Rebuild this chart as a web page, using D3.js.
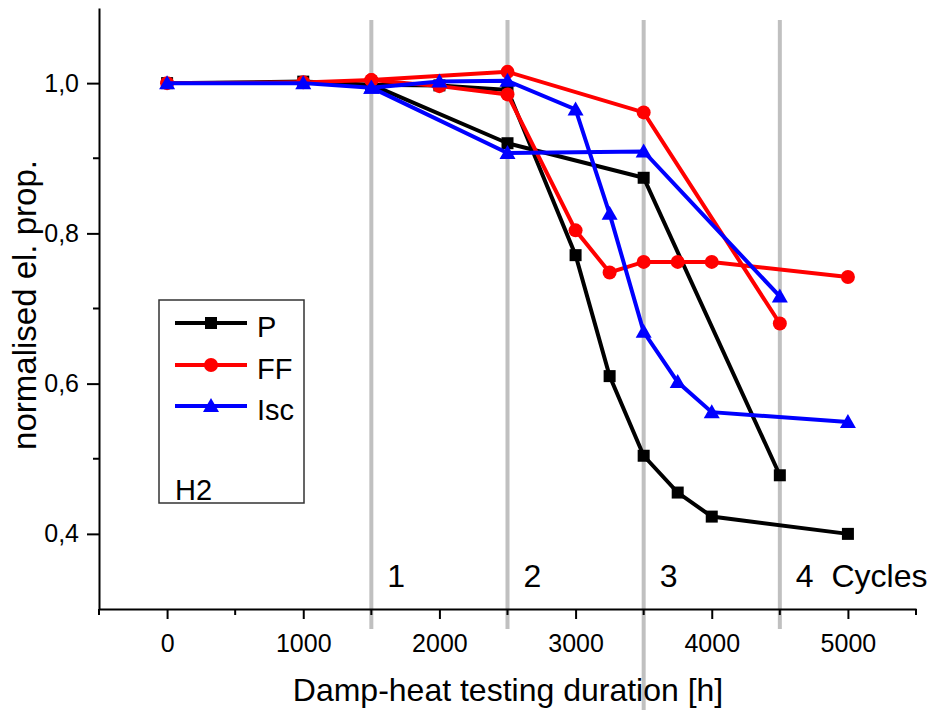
<!DOCTYPE html>
<html><head><meta charset="utf-8">
<script src="https://cdn.jsdelivr.net/npm/d3@7"></script>
<style>body{margin:0;background:#fff}svg{display:block}text{font-family:"Liberation Sans",Arial,sans-serif}</style>
</head><body><svg id="c" width="935" height="710"></svg>
<script>
// Branch A (dense measurements)
const hoursA = [0, 1000, 1500, 2000, 2500, 3000, 3250, 3500, 3750, 4000, 5000];
const pA   = [1.000, 1.002, 0.998, 0.997, 0.991, 0.771, 0.610, 0.504, 0.455, 0.423, 0.400];
const ffA  = [1.000, 1.001, 1.004, 0.996, 0.985, 0.804, 0.748, 0.762, 0.762, 0.762, 0.742];
const iscA = [1.000, 1.000, 0.994, 1.002, 1.003, 0.965, 0.826, 0.669, 0.602, 0.562, 0.549];
// Branch B (cycle measurements)
const hoursB = [1500, 2500, 3500, 4500];
const pB   = [0.998, 0.920, 0.874, 0.478];
const ffB  = [1.004, 1.015, 0.961, 0.680];
const iscB = [0.994, 0.907, 0.909, 0.716];
const cycleLines = [1500, 2500, 3500, 4500];
const cycleLabels = ["1", "2", "3", "4  Cycles"];
const xTicks = [0, 1000, 2000, 3000, 4000, 5000];
const yTicks = [0.4, 0.6, 0.8, 1.0];
const seriesNames = ["P", "FF", "Isc"];
const seriesColors = ["#000000", "#ff0000", "#0000ff"];

const svg = d3.select("#c");
const x = d3.scaleLinear().domain([-500, 5500]).range([99, 916]);
const y = d3.scaleLinear().domain([0.3, 1.1]).range([609, 8]);

// cycle lines
cycleLines.forEach((c, i) => {
  svg.append("line").attr("x1", x(c)).attr("x2", x(c))
    .attr("y1", 20).attr("y2", i === 2 ? 710 : 629)
    .attr("stroke", "#c0c0c0").attr("stroke-width", 4);
});

// axes
const xAxis = svg.append("g").attr("transform", "translate(0,609)")
  .call(d3.axisBottom(x).tickValues(xTicks).tickSize(10).tickSizeOuter(0).tickFormat(d3.format("d")).tickPadding(15));
xAxis.select(".domain").attr("stroke-width", 2);
xAxis.selectAll(".tick line").attr("stroke-width", 2);
xAxis.selectAll("text").attr("font-size", 25).attr("fill", "#000").attr("font-family", "Liberation Sans, Arial, sans-serif");
xAxis.selectAll(".mt").data(d3.range(-500, 5501, 1000)).enter().append("line")
  .attr("x1", d => x(d)).attr("x2", d => x(d)).attr("y1", 0).attr("y2", 6)
  .attr("stroke", "#000").attr("stroke-width", 2);

const yAxis = svg.append("g").attr("transform", "translate(99,0)")
  .call(d3.axisLeft(y).tickValues(yTicks).tickSize(12).tickSizeOuter(0)
    .tickFormat(d => d3.format(".1f")(d).replace(".", ",")).tickPadding(8));
yAxis.select(".domain").attr("stroke-width", 2);
yAxis.selectAll(".tick line").attr("stroke-width", 2);
yAxis.selectAll("text").attr("font-size", 25).attr("fill", "#000").attr("font-family", "Liberation Sans, Arial, sans-serif");
yAxis.selectAll(".mt").data([0.5, 0.7, 0.9]).enter().append("line")
  .attr("x1", 0).attr("x2", -6).attr("y1", d => y(d)).attr("y2", d => y(d))
  .attr("stroke", "#000").attr("stroke-width", 2);

// axis titles
svg.append("text").attr("x", 508).attr("y", 701).attr("text-anchor", "middle")
  .attr("font-size", 32).text("Damp-heat testing duration [h]");
svg.append("text").attr("transform", "translate(36,305) rotate(-90)").attr("text-anchor", "middle")
  .attr("font-size", 33).text("normalised el. prop.");

// cycle labels
cycleLabels.forEach((t, i) => {
  svg.append("text").attr("x", x(cycleLines[i]) + 16).attr("y", 587)
    .attr("font-size", 32).style("white-space", "pre").text(t);
});

function marker(g, type, color, cx, cy) {
  if (type === 0) g.append("rect").attr("x", cx - 6).attr("y", cy - 6).attr("width", 12).attr("height", 12).attr("fill", color);
  else if (type === 1) g.append("circle").attr("cx", cx).attr("cy", cy).attr("r", 7).attr("fill", color);
  else g.append("path").attr("d", `M${cx},${cy - 8}L${cx + 8},${cy + 6}L${cx - 8},${cy + 6}Z`).attr("fill", color);
}

const line = d3.line().x(d => x(d[0])).y(d => y(d[1]));
const dataA = [pA, ffA, iscA];
const dataB = [pB, ffB, iscB];
const plot = svg.append("g");
[0, 1, 2].forEach(s => {
  const g = plot.append("g");
  const a = hoursA.map((h, i) => [h, dataA[s][i]]);
  const b = hoursB.map((h, i) => [h, dataB[s][i]]);
  g.append("path").datum(b).attr("d", line).attr("fill", "none").attr("stroke", seriesColors[s]).attr("stroke-width", 4);
  g.append("path").datum(a).attr("d", line).attr("fill", "none").attr("stroke", seriesColors[s]).attr("stroke-width", 4);
  b.forEach(d => marker(g, s, seriesColors[s], x(d[0]), y(d[1])));
  a.forEach(d => marker(g, s, seriesColors[s], x(d[0]), y(d[1])));
});

// legend
const lg = svg.append("g");
lg.append("rect").attr("x", 159).attr("y", 300).attr("width", 145).attr("height", 203)
  .attr("fill", "#fff").attr("stroke", "#333").attr("stroke-width", 1.5);
const legY = [323, 365, 406];
seriesNames.forEach((n, i) => {
  lg.append("line").attr("x1", 175).attr("x2", 247).attr("y1", legY[i]).attr("y2", legY[i])
    .attr("stroke", seriesColors[i]).attr("stroke-width", 4);
  marker(lg, i, seriesColors[i], 211, legY[i]);
  lg.append("text").attr("x", 257).attr("y", legY[i] + 14).attr("font-size", 29).text(n);
});
lg.append("text").attr("x", 175).attr("y", 500).attr("font-size", 29).text("H2");
</script></body></html>
